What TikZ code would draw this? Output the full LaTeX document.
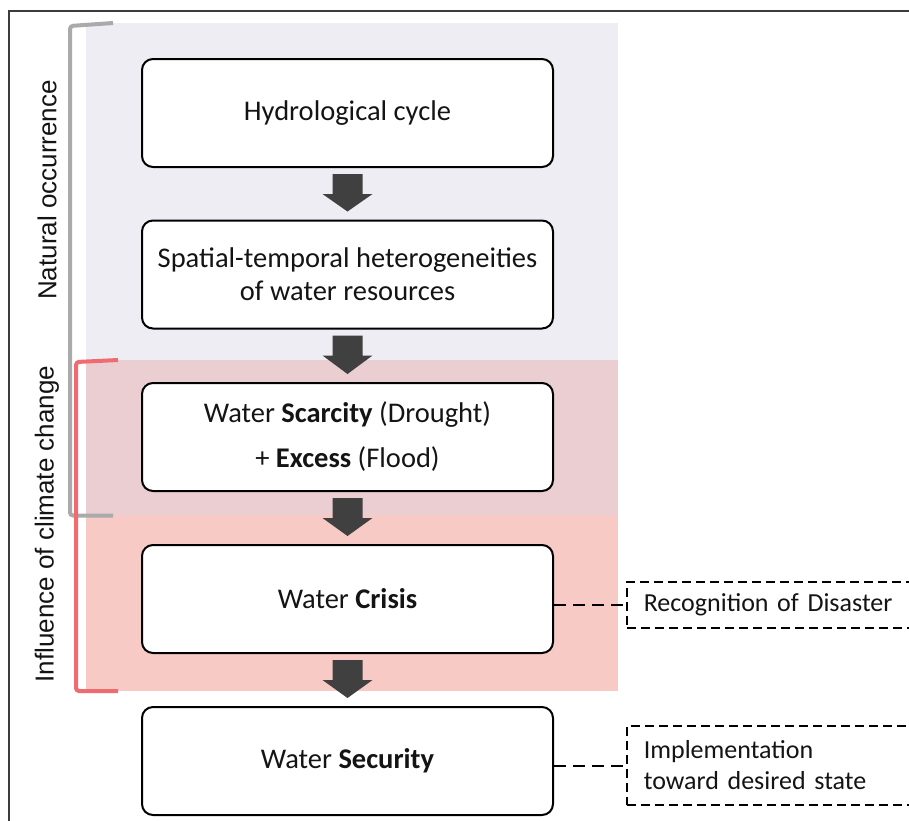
\documentclass[tikz,border=0pt]{standalone}
\usepackage{fontspec}
\setmainfont{Carlito}
\newfontfamily\arialf{Liberation Sans}
\usetikzlibrary{calc}
\definecolor{bgblue}{RGB}{237,237,243}
\definecolor{bgpinkA}{RGB}{234,206,210}
\definecolor{bgpinkB}{RGB}{248,202,198}
\definecolor{greybr}{RGB}{170,170,170}
\definecolor{redbr}{RGB}{238,108,112}
\definecolor{arrowc}{RGB}{64,64,64}
\definecolor{framec}{RGB}{60,60,60}
\definecolor{txt}{RGB}{20,20,20}
\newcommand\blockarr[2]{%
  \fill[arrowc] ($(#1.south)+(-15,6)$) -- ($(#1.south)+(15,6)$) -- ($(#1.south)+(15,26)$)
    -- ($(#1.south)+(25,26)$) -- ($(#2.north)+(0,-8)$) -- ($(#1.south)+(-25,26)$)
    -- ($(#1.south)+(-15,26)$) -- cycle;}
\begin{document}
\begin{tikzpicture}[x=1pt,y=-1pt,
  mainbox/.style={draw=black, line width=2pt, rounded corners=11pt, fill=white,
    minimum width=411pt, minimum height=108pt, align=center, text=txt,
    font=\fontsize{28.5}{33}\selectfont, inner sep=0pt},
  notebox/.style={draw=black, line width=1.6pt, dash pattern=on 9pt off 5pt,
    anchor=west, text width=290pt, align=left, inner xsep=17pt, inner ysep=0pt,
    text=txt, font=\fontsize{26}{31}\selectfont},
  dashconn/.style={draw=black, line width=2pt, dash pattern=on 12pt off 7pt},
  sidelabel/.style={rotate=90, text=txt, font=\arialf\fontsize{26}{30}\selectfont},
  bracket/.style={line width=4pt, rounded corners=3pt}]
\path[use as bounding box, clip] (0,0) rectangle (909,820);
\fill[white] (0,0) rectangle (909,820);
% background bands
\fill[bgblue] (86,23) rectangle (618,360);
\fill[bgpinkA] (86,360) rectangle (618,515);
\fill[bgpinkB] (86,515) rectangle (618,691);
% frame
\draw[framec, line width=1.5pt] (9,840) -- (9,11) -- (930,11);
% brackets
\draw[bracket, greybr] (113,23) -- (70,26) -- (70,515.5) -- (113,515.5);
\draw[bracket, redbr] (118,360) -- (76,362) -- (76,691) -- (118,691);
% side labels
\node[sidelabel] (nat) at (47,190) {Natural occurrence};
\node[sidelabel] (clim) at (47,524) {Influence of climate change};
% main boxes
\node[mainbox] (b1) at (347.5,113) {Hydrological cycle};
\node[mainbox] (b2) at (347.5,274.5) {Spatial-temporal heterogeneities\\of water resources};
\node[mainbox] (b3) at (347.5,437) {Water \textbf{Scarcity} (Drought)\\[12pt]+ \textbf{Excess} (Flood)};
\node[mainbox] (b4) at (347.5,599) {Water \textbf{Crisis}};
\node[mainbox] (b5) at (347.5,761) {Water \textbf{Security}};
% block arrows
\blockarr{b1}{b2}
\blockarr{b2}{b3}
\blockarr{b3}{b4}
\blockarr{b4}{b5}
% notes
\node[notebox, minimum height=46pt] (nA) at (626,605) {Recognition of Disaster};
\node[notebox, minimum height=79pt] (nB) at (626,765.5) {Implementation\\toward desired state};
\draw[dashconn] (b4.east |- nA.west) -- (nA.west);
\draw[dashconn] (b5.east |- nB.west) -- (nB.west);
\end{tikzpicture}
\end{document}
